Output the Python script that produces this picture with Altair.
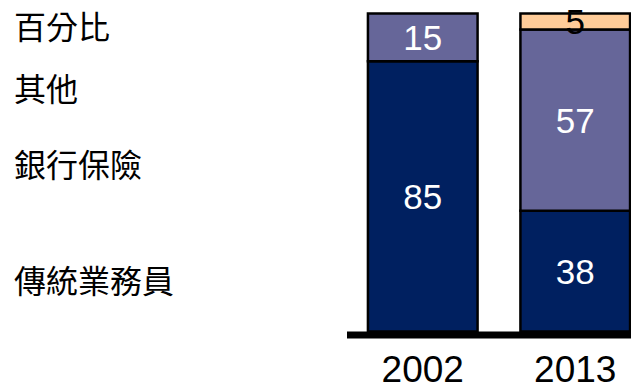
import altair as alt
import pandas as pd

years = ["2002", "2002", "2013", "2013", "2013"]
channels = ["傳統業務員", "銀行保險", "傳統業務員", "銀行保險", "其他"]
values = [85, 15, 38, 57, 5]
stack_order = [0, 1, 0, 1, 2]

side_labels = ["百分比", "其他", "銀行保險", "傳統業務員"]
side_label_y = [95.9, 76.3, 52.4, 15.9]

channel_domain = ["傳統業務員", "銀行保險", "其他"]
channel_colors = ["#002060", "#666699", "#FFCC99"]

df = pd.DataFrame({"year": years, "channel": channels, "value": values, "order": stack_order})
side_df = pd.DataFrame({"label": side_labels, "pos": side_label_y})

W, H = 284, 318

x_enc = alt.X("year:N", title=None,
              scale=alt.Scale(range=[0, 304], paddingInner=0.281, paddingOuter=0.1373),
              axis=alt.Axis(domain=False, ticks=False, labelAngle=0, labelFontSize=37,
                            labelFont="Liberation Sans", labelColor="black", labelPadding=21))
y_scale = alt.Scale(domain=[0, 100])

base = alt.Chart(df)

bars = base.mark_bar(stroke="black", strokeWidth=2.5).encode(
    x=x_enc,
    y=alt.Y("value:Q", stack="zero", scale=y_scale, axis=None),
    color=alt.Color("channel:N", scale=alt.Scale(domain=channel_domain, range=channel_colors), legend=None),
    order=alt.Order("order:Q", sort="ascending"),
)

labels = base.transform_stack(
    stack="value", as_=["y0", "y1"], groupby=["year"], sort=[alt.SortField("order", order="ascending")]
).transform_calculate(
    mid="(datum.y0 + datum.y1) / 2"
).mark_text(font="Liberation Sans", fontSize=35, baseline="middle", align="center", dy=2).encode(
    x=x_enc,
    y=alt.Y("mid:Q", scale=y_scale, axis=None),
    text=alt.Text("value:Q"),
    color=alt.condition(alt.datum.channel == "其他", alt.value("black"), alt.value("white")),
)

baseline = alt.Chart(pd.DataFrame({"v": [0]})).mark_rule(color="black", strokeWidth=7, yOffset=3.5).encode(
    x=alt.value(0), x2=alt.value(W), y=alt.Y("v:Q", scale=y_scale, axis=None)
)

side = alt.Chart(side_df).mark_text(
    font="Noto Sans CJK TC", fontSize=32, align="left", baseline="middle", color="black", dy=2
).encode(
    x=alt.value(-333),
    y=alt.Y("pos:Q", scale=y_scale, axis=None),
    text="label:N",
)

chart = alt.layer(bars, labels, baseline, side).properties(
    width=W, height=H,
    autosize=alt.AutoSizeParams(type="none"),
    padding={"left": 339, "top": 5.5, "right": 0, "bottom": 52},
).configure_view(stroke=None)

chart.save("out.html", embed_options={"renderer": "svg", "actions": False})
